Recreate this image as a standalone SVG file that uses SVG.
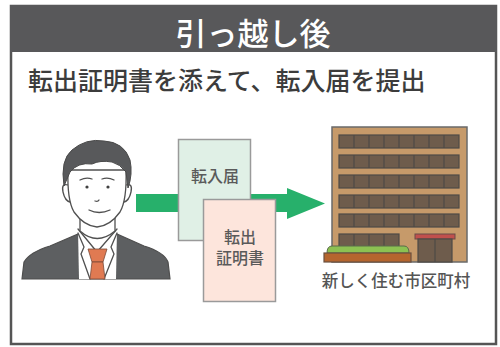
<svg xmlns="http://www.w3.org/2000/svg" width="500" height="347" viewBox="0 0 500 347">
  <defs>
    <style>
      .jp { font-family: "Noto Sans CJK JP", "Noto Sans", sans-serif; }
      .title { fill: #ffffff; font-size: 31px; font-weight: 500; }
      .lead { fill: #3c3c3c; font-size: 25px; font-weight: 500; }
      .doc { stroke: #9a9a9a; stroke-width: 1.5; }
      .doctext { fill: #5a5a5a; font-size: 16px; font-weight: 500; }
      .label { fill: #555555; font-size: 16.5px; font-weight: 500; }
      .win { fill: #6e5c4c; stroke: #4e4a46; stroke-width: 1.2; }
      .line { fill: none; stroke: #505050; stroke-width: 1.3; stroke-linecap: round; stroke-linejoin: round; }
    </style>
  </defs>

  <rect width="500" height="347" fill="#ffffff"/>

  <!-- frame and heading band -->
  <g id="frame">
    <rect x="11" y="6" width="485" height="338" fill="#ffffff" stroke="#555555" stroke-width="2.5"/>
    <rect x="10" y="5" width="487" height="47" fill="#58585a"/>
    <text class="jp title" x="253" y="45" text-anchor="middle">引っ越し後</text>
    <text class="jp lead" x="28" y="90">転出証明書を添えて、転入届を提出</text>
  </g>

  <!-- connector: from the person to the municipal office -->
  <g id="connectors">
    <path d="M136 194 H287 V188 L325 203.5 L287 219 V212 H136 Z" fill="#27b06b"/>
  </g>

  <!-- person in a suit -->
  <g id="person">
    <!-- suit -->
    <path d="M22 279 L24 262 Q30 252 50 246 L78 234 L97 262 L117 234 L144 246 Q164 252 168 262 L170 279 Z" fill="#5d5f61" stroke="#4e4e4e" stroke-width="1.2"/>
    <!-- shirt -->
    <path d="M78 230 L117 230 L116 279 L79 279 Z" fill="#ffffff"/>
    <path d="M78 233 L84 247 L81 254 L90 279 M117 233 L111 247 L114 254 L104 279" class="line"/>
    <path d="M78 229 L97 252 L117 229" class="line"/>
    <!-- neck -->
    <path d="M80 214 L80 231 Q97 246 115 231 L115 214 Z" fill="#ffffff" stroke="#505050" stroke-width="1.3"/>
    <!-- tie -->
    <path d="M88 249 L107 249 L103 262 L92 262 Z" fill="#e07a52" stroke="#7a4a38" stroke-width="0.8"/>
    <path d="M92 262 L103 262 L105 279 L90 279 Z" fill="#e07a52" stroke="#7a4a38" stroke-width="0.8"/>
    <!-- ears -->
    <path d="M68 185 Q61 183 63 192 Q65 201 70 202" fill="#ffffff" stroke="#505050" stroke-width="1.3"/>
    <path d="M126 185 Q133 183 131 192 Q129 201 124 202" fill="#ffffff" stroke="#505050" stroke-width="1.3"/>
    <!-- face -->
    <path d="M68 170 Q67 200 74 212 Q84 226 97 227 Q110 226 120 212 Q127 200 126 170 Z" fill="#ffffff" stroke="#505050" stroke-width="1.3"/>
    <!-- hair -->
    <path d="M64 186 Q60 160 72 150 Q86 138 104 141 Q124 142 130 160 Q133 174 128 188 L126 172 Q120 164 112 162 Q100 160 92 164 Q78 162 70 172 Z" fill="#58595b" stroke="#4a4a4a" stroke-width="1"/>
    <!-- brows, eyes, nose, mouth -->
    <path d="M80 180 Q86 177 92 179 M102 179 Q108 177 114 180" class="line"/>
    <circle cx="87" cy="187" r="1.6" fill="#404040"/>
    <circle cx="108" cy="187" r="1.6" fill="#404040"/>
    <path d="M95 201 Q98 202 99 200" class="line"/>
    <path d="M89 210 Q99 215 110 210" class="line"/>
  </g>

  <!-- moving-in notice -->
  <g id="doc-tennyu">
    <rect class="doc" x="178.5" y="139.5" width="72" height="101" fill="#e0f0e6"/>
    <text class="jp doctext" x="215" y="182" text-anchor="middle">転入届</text>
  </g>

  <!-- moving-out certificate: two-line label -->
  <g id="doc-tenshutsu">
    <rect class="doc" x="203.5" y="199.5" width="72" height="102" fill="#fde5dc"/>
    <text class="jp doctext" x="240" y="243" text-anchor="middle">転出<tspan x="240" dy="21">証明書</tspan></text>
  </g>

  <!-- municipal office building -->
  <g id="office">
    <rect x="332" y="127" width="135" height="135" fill="#c69a6a" stroke="#6a6a6a" stroke-width="1.5"/>
    <g id="windows">
      <rect class="win" x="339" y="135" width="120" height="13"/>
      <rect class="win" x="339" y="155" width="120" height="13"/>
      <rect class="win" x="339" y="175" width="120" height="13"/>
      <rect class="win" x="339" y="195" width="120" height="13"/>
      <rect class="win" x="339" y="214" width="120" height="13"/>
      <rect class="win" x="339" y="234" width="60" height="16"/>
      <path d="M354 135 V148 M369 135 V148 M384 135 V148 M399 135 V148 M414 135 V148 M429 135 V148 M444 135 V148
               M354 155 V168 M369 155 V168 M384 155 V168 M399 155 V168 M414 155 V168 M429 155 V168 M444 155 V168
               M354 175 V188 M369 175 V188 M384 175 V188 M399 175 V188 M414 175 V188 M429 175 V188 M444 175 V188
               M354 195 V208 M369 195 V208 M384 195 V208 M399 195 V208 M414 195 V208 M429 195 V208 M444 195 V208
               M354 214 V227 M369 214 V227 M384 214 V227 M399 214 V227 M414 214 V227 M429 214 V227 M444 214 V227
               M354 234 V250 M369 234 V250 M384 234 V250" stroke="#4e4a46" stroke-width="1.2"/>
    </g>
    <!-- entrance -->
    <rect x="415" y="234" width="40" height="5" fill="#c0504d" stroke="#6a4a48" stroke-width="1"/>
    <rect x="418" y="239" width="34" height="23" fill="#6e5c4c" stroke="#4e4a46" stroke-width="1.2"/>
    <path d="M435 239 V262" stroke="#4e4a46" stroke-width="1.2"/>
    <!-- planter -->
    <path d="M327 253 Q327 246 332 246 L404 246 Q409 246 409 253 Z" fill="#8cc152" stroke="#5a6a4a" stroke-width="1"/>
    <rect x="324" y="253" width="87" height="9" fill="#b5652e" stroke="#6a5040" stroke-width="1.2"/>
  </g>

  <text class="jp label" x="396" y="287" text-anchor="middle">新しく住む市区町村</text>
</svg>
